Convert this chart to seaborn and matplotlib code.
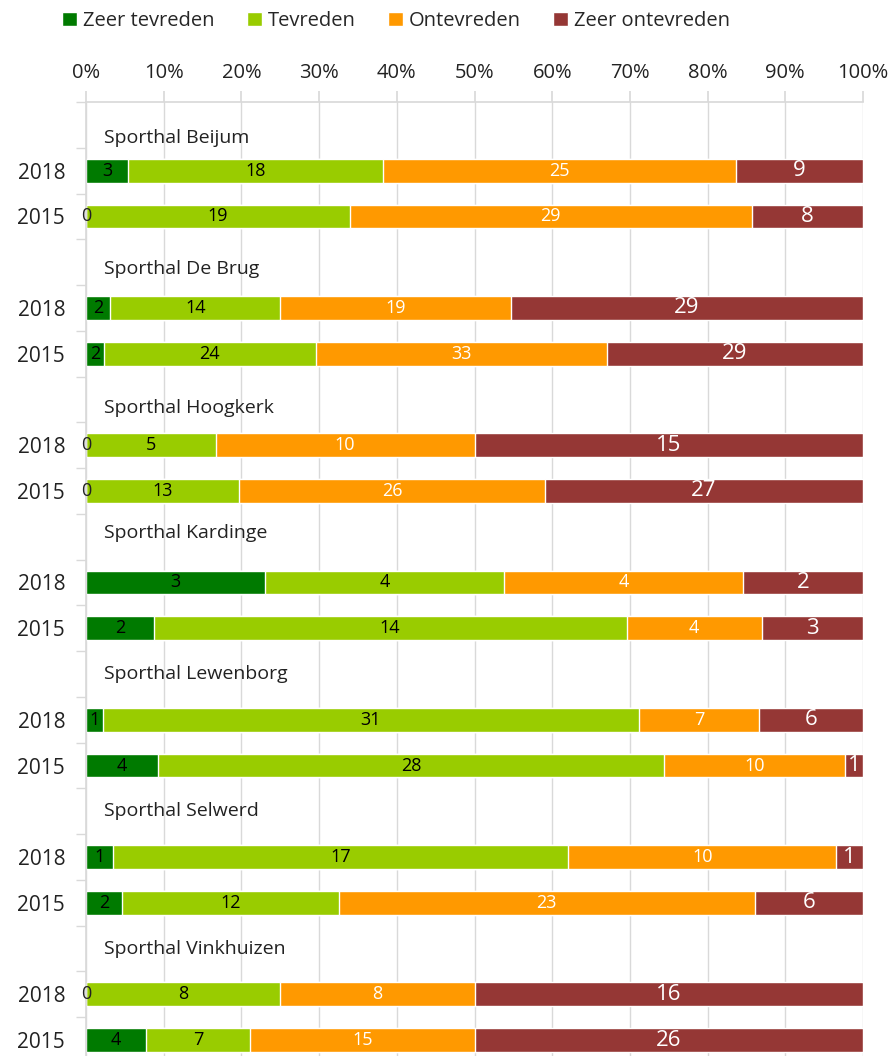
import seaborn as sns
import matplotlib.pyplot as plt
import pandas as pd
import numpy as np
from matplotlib.patches import Patch
from matplotlib.ticker import FixedLocator

sns.set_theme(style="white")
plt.rcParams['font.family'] = ['Open Sans', 'DejaVu Sans']

# data: number of answers per category
halls = ["Sporthal Beijum", "Sporthal De Brug", "Sporthal Hoogkerk", "Sporthal Kardinge",
         "Sporthal Lewenborg", "Sporthal Selwerd", "Sporthal Vinkhuizen"]
years = ["2018", "2015"]
categories = ["Zeer tevreden", "Tevreden", "Ontevreden", "Zeer ontevreden"]
colors = ["#007A00", "#99CC00", "#FF9900", "#953735"]

zeer_tevreden = [3, 0, 2, 2, 0, 0, 3, 2, 1, 4, 1, 2, 0, 4]
tevreden = [18, 19, 14, 24, 5, 13, 4, 14, 31, 28, 17, 12, 8, 7]
ontevreden = [25, 29, 19, 33, 10, 26, 4, 4, 7, 10, 10, 23, 8, 15]
zeer_ontevreden = [9, 8, 29, 29, 15, 27, 2, 3, 6, 1, 1, 6, 16, 26]

# titles are not exactly centred in their row in the original
title_shift = [0.28, 0.15, 0.18, -0.08, 0, 0, 0]

# build rows: title row + 2018 + 2015 per hall
rows = []
for h in halls:
    rows += [h + "|titel", h + "|2018", h + "|2015"]
bar_rows = [h + "|" + y for h in halls for y in years]

df = pd.DataFrame({"row": bar_rows, "Zeer tevreden": zeer_tevreden, "Tevreden": tevreden,
                   "Ontevreden": ontevreden, "Zeer ontevreden": zeer_ontevreden})
totaal = df[categories].sum(axis=1)
pct = df[categories].div(totaal, axis=0) * 100
cum = pct.cumsum(axis=1)

fig = plt.figure(figsize=(8.92, 10.56), dpi=100)
ax = fig.add_axes([86 / 892, -0.0066, 777 / 892, 0.91])

# stacked bars: draw cumulative widths from the back to the front
for cat, col in reversed(list(zip(categories, colors))):
    sns.barplot(x=cum[cat], y=df["row"], order=rows, color=col, width=0.52,
                orient="h", ax=ax, zorder=2, saturation=1)

# labels with counts in the middle of every segment
label_style = {
    "Zeer tevreden": ("black", 13),
    "Tevreden": ("black", 13),
    "Ontevreden": ("white", 13),
    "Zeer ontevreden": ("white", 16),
}
for i, r in enumerate(bar_rows):
    ypos = rows.index(r)
    for cat in categories:
        mid = cum.loc[i, cat] - pct.loc[i, cat] / 2
        kleur, fs = label_style[cat]
        if df.loc[i, cat] == 0:
            kleur = "#222222"
        ax.text(mid, ypos, str(df.loc[i, cat]), ha="center", va="center",
                color=kleur, fontsize=fs, zorder=3)

# hall titles
for h, dy in zip(halls, title_shift):
    ax.text(2.3, rows.index(h + "|titel") + dy, h, ha="left", va="center",
            fontsize=14, color="#222222")

ax.set_xlim(0, 100)
ax.set_ylim(len(rows) - 0.5, -0.5)
ax.set_xticks(np.arange(0, 101, 10))
ax.set_xticklabels([f"{v}%" for v in range(0, 101, 10)])
ax.xaxis.tick_top()
ax.tick_params(axis="x", which="major", top=True, length=8, color="#D9D9D9",
               pad=6, labelsize=14.5, labelcolor="#222222")
ax.grid(axis="x", color="#D9D9D9", lw=1, zorder=0)
ax.set_axisbelow(True)

ax.set_yticks(range(len(rows)))
ax.set_yticklabels([r.split("|")[1] if not r.endswith("titel") else "" for r in rows])
ax.yaxis.set_minor_locator(FixedLocator(np.arange(-0.5, len(rows), 1)))
ax.tick_params(axis="y", which="major", length=0, pad=15, labelsize=15, labelcolor="#222222")
ax.tick_params(axis="y", which="minor", left=True, length=7, color="#D9D9D9")
ax.set_xlabel("")
ax.set_ylabel("")

for s in ["right", "bottom"]:
    ax.spines[s].set_visible(False)
for s in ["top", "left"]:
    ax.spines[s].set_color("#D9D9D9")

handles = [Patch(facecolor=c, label=l) for c, l in zip(colors, categories)]
fig.legend(handles=handles, loc="center", bbox_to_anchor=(0.444, 0.980), ncol=4,
           frameon=False, handlelength=0.75, handleheight=0.75, handletextpad=0.3,
           columnspacing=1.6, fontsize=14.5)

fig.savefig("out.png", dpi=100)
